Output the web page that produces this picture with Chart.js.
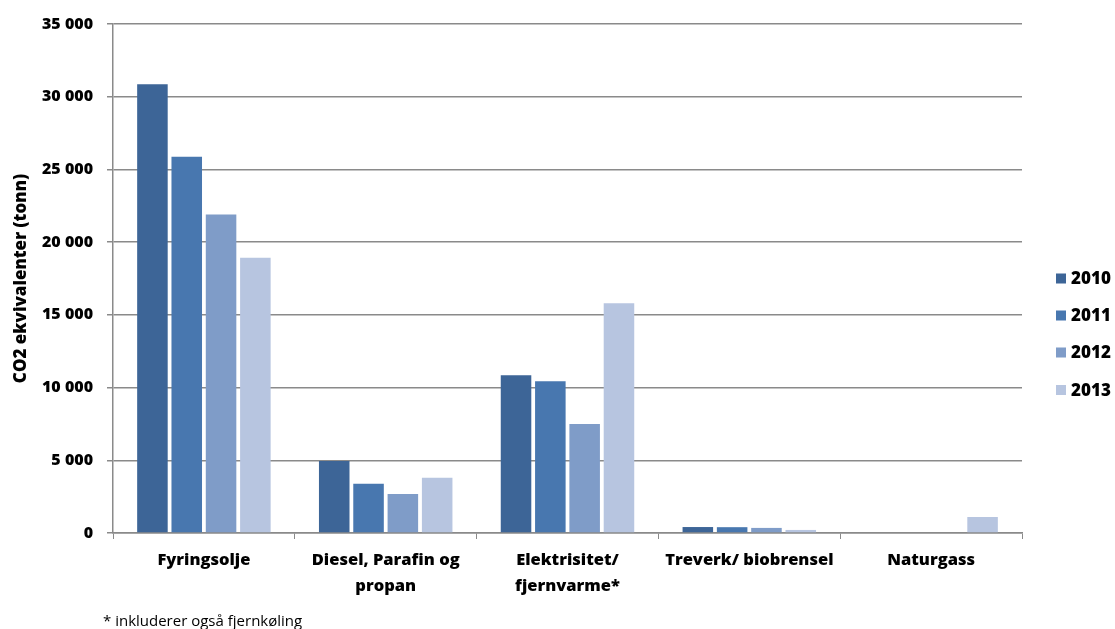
<!DOCTYPE html>
<html>
<head>
<meta charset="utf-8">
<script src="https://cdn.jsdelivr.net/npm/chart.js@4/dist/chart.umd.min.js"></script>
<style>
  html, body { margin: 0; padding: 0; background: #fff; }
  #wrap { position: relative; width: 1115px; height: 629px; overflow: hidden; }
  canvas { display: block; }
</style>
</head>
<body>
<div id="wrap"><canvas id="c" width="1115" height="629"></canvas></div>
<script>
// Utslipp per energikilde, tonn CO2-ekvivalenter
const categories = [
  'Fyringsolje',
  ['Diesel, Parafin og', 'propan'],
  ['Elektrisitet/', 'fjernvarme*'],
  'Treverk/ biobrensel',
  'Naturgass'
];
const years = ['2010', '2011', '2012', '2013'];
const values2010 = [30850, 4950, 10850, 410, 0];
const values2011 = [25870, 3390, 10440, 400, 0];
const values2012 = [21900, 2680, 7500, 350, 0];
const values2013 = [18920, 3800, 15800, 210, 1100];
const yTitle = 'CO2 ekvivalenter (tonn)';
const footnote = '* inkluderer også fjernkøling';

const colors = ['#3D6597', '#4877AF', '#7F9CC8', '#B7C5E0'];
const seriesValues = [values2010, values2011, values2012, values2013];

const FONT = "'Open Sans', 'Noto Sans', sans-serif";

function spaced(v) {
  return String(v).replace(/\B(?=(\d{3})+(?!\d))/g, ' ');
}

// Vertical legend at the right and the note under the chart
const sideLegend = {
  id: 'sideLegend',
  afterDraw(chart) {
    const ctx = chart.ctx;
    ctx.save();
    const ys = [278.5, 315.5, 352.5, 390];
    chart.data.datasets.forEach((ds, i) => {
      ctx.fillStyle = ds.backgroundColor;
      ctx.fillRect(1056, ys[i] - 5, 10, 10);
      ctx.fillStyle = '#000';
      ctx.font = "800 17px " + FONT;
      ctx.textBaseline = 'middle';
      ctx.textAlign = 'left';
      ctx.fillText(ds.label, 1071, ys[i] + 1);
    });
    ctx.font = "15px " + FONT;
    ctx.textBaseline = 'middle';
    ctx.fillStyle = '#000';
    ctx.fillText(footnote, 103, 622);
    ctx.restore();
  }
};

new Chart(document.getElementById('c'), {
  type: 'bar',
  data: {
    labels: categories,
    datasets: years.map((y, i) => ({
      label: y,
      data: seriesValues[i],
      backgroundColor: colors[i],
      borderWidth: 0,
      barPercentage: 0.89,
      categoryPercentage: 0.755
    }))
  },
  options: {
    responsive: false,
    animation: false,
    devicePixelRatio: 1,
    layout: { padding: { top: 24, right: 93, left: 0, bottom: 0 } },
    plugins: {
      legend: { display: false },
      tooltip: { enabled: false }
    },
    scales: {
      x: {
        grid: {
          offset: true,
          drawOnChartArea: false,
          drawTicks: true,
          tickLength: 6,
          color: '#8a8a8a',
          lineWidth: 1
        },
        border: { color: '#8a8a8a', width: 1.5 },
        ticks: {
          color: '#000',
          padding: 8,
          maxRotation: 0,
          autoSkip: false,
          font: { family: FONT, size: 16.5, weight: '800', lineHeight: 1.58 }
        },
        afterFit(scale) { scale.height = 96; }
      },
      y: {
        min: 0,
        max: 35000,
        ticks: {
          stepSize: 5000,
          color: '#000',
          padding: 14,
          font: { family: FONT, size: 16, weight: '800' },
          callback: (v) => spaced(v)
        },
        grid: {
          color: '#8a8a8a',
          lineWidth: 1.5,
          tickLength: 6
        },
        border: { color: '#8a8a8a', width: 1.5 },
        title: {
          display: true,
          text: yTitle,
          color: '#000',
          font: { family: FONT, size: 17, weight: '800' },
          padding: { top: 11, bottom: 0 }
        },
        afterFit(scale) { scale.width = 113; }
      }
    }
  },
  plugins: [sideLegend]
});
</script>
</body>
</html>
